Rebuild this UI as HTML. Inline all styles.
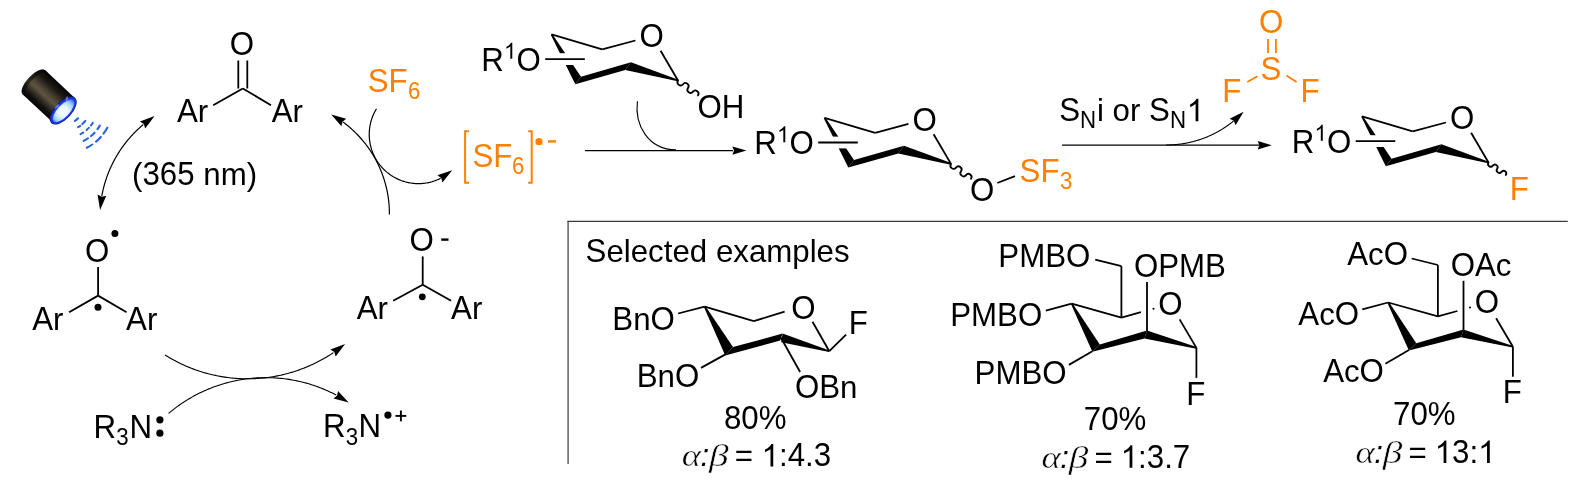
<!DOCTYPE html>
<html><head><meta charset="utf-8"><style>
html,body{margin:0;padding:0;background:#fff;}
body{width:1576px;height:484px;overflow:hidden;font-family:"Liberation Sans", sans-serif;}
svg{display:block;will-change:transform;}
</style></head><body>
<svg width="1576" height="484" viewBox="0 0 1576 484">
<rect width="1576" height="484" fill="#fff"/>
<defs>
<linearGradient id="bodyg" x1="0" y1="-16.5" x2="0" y2="16.5" gradientUnits="userSpaceOnUse">
<stop offset="0" stop-color="#040404"/><stop offset="0.22" stop-color="#1b1915"/><stop offset="0.45" stop-color="#4d4535"/>
<stop offset="0.57" stop-color="#5d5441"/><stop offset="0.7" stop-color="#3b3529"/><stop offset="0.86" stop-color="#121110"/><stop offset="1" stop-color="#040404"/>
</linearGradient>
<radialGradient id="lensg" cx="1.2" cy="1.5" r="14" gradientUnits="userSpaceOnUse">
<stop offset="0" stop-color="#ffffff"/><stop offset="0.4" stop-color="#e6f6ff"/><stop offset="0.75" stop-color="#9ed2ff"/><stop offset="1" stop-color="#4f86f5"/>
</radialGradient>
</defs>
<g transform="translate(63.3,109.7) rotate(43)">
<path d="M0,-16.5 L-40,-16.5 A7,16.5 0 0 0 -40,16.5 L0,16.5 Z" fill="url(#bodyg)"/>
<path d="M-36,-16.5 L-40,-16.5 A7,16.5 0 0 0 -40,16.5 L-36,16.5 A7,16.5 0 0 1 -36,-16.5 Z" fill="#0a0a0a" opacity="0.55"/>
<ellipse cx="0.5" cy="0.6" rx="8.6" ry="17.4" fill="#0b1590"/>
<ellipse cx="0.6" cy="0.6" rx="7.9" ry="16.7" fill="#1d36dc"/>
<ellipse cx="0.8" cy="0.6" rx="6.5" ry="14.8" fill="#2a4de8"/>
<ellipse cx="1.0" cy="0.7" rx="5.9" ry="14.0" fill="url(#lensg)"/>
<ellipse cx="-6.9" cy="2.0" rx="1.1" ry="2.8" fill="#9fd0ff" opacity="0.5"/>
<ellipse cx="-5.0" cy="-10.5" rx="1.0" ry="2.4" fill="#9fd0ff" opacity="0.5" transform="rotate(-25 -5 -10.5)"/>
</g>
<path d="M74.89,120.87 A18.7,18.7 0 0 0 78.10,118.35" fill="none" stroke="#2a62dc" stroke-width="2.1" stroke-linecap="round"/>
<path d="M78.14,127.20 A25.8,25.8 0 0 0 80.20,125.85" fill="none" stroke="#2a62dc" stroke-width="2.1" stroke-linecap="round"/>
<path d="M82.37,124.08 A25.8,25.8 0 0 0 85.30,120.92" fill="none" stroke="#2a62dc" stroke-width="2.1" stroke-linecap="round"/>
<path d="M80.53,134.12 A33,33 0 0 0 83.23,132.51" fill="none" stroke="#2a62dc" stroke-width="2.1" stroke-linecap="round"/>
<path d="M86.59,129.96 A33,33 0 0 0 88.79,127.87" fill="none" stroke="#2a62dc" stroke-width="2.1" stroke-linecap="round"/>
<path d="M90.99,125.33 A33,33 0 0 0 92.69,122.96" fill="none" stroke="#2a62dc" stroke-width="2.1" stroke-linecap="round"/>
<path d="M83.71,140.92 A40.5,40.5 0 0 0 87.94,138.38" fill="none" stroke="#2a62dc" stroke-width="2.1" stroke-linecap="round"/>
<path d="M91.04,136.02 A40.5,40.5 0 0 0 94.52,132.73" fill="none" stroke="#2a62dc" stroke-width="2.1" stroke-linecap="round"/>
<path d="M97.48,129.20 A40.5,40.5 0 0 0 99.89,125.56" fill="none" stroke="#2a62dc" stroke-width="2.1" stroke-linecap="round"/>
<path d="M86.79,147.77 A48,48 0 0 0 92.26,144.51" fill="none" stroke="#2a62dc" stroke-width="2.1" stroke-linecap="round"/>
<path d="M96.04,141.61 A48,48 0 0 0 100.84,136.93" fill="none" stroke="#2a62dc" stroke-width="2.1" stroke-linecap="round"/>
<path d="M103.48,133.69 A48,48 0 0 0 107.30,127.68" fill="none" stroke="#2a62dc" stroke-width="2.1" stroke-linecap="round"/>
<text transform="translate(229.72,54.90) scale(1,1.04)" x="0" y="0" font-size="31.25" fill="#000" font-family='"Liberation Sans", sans-serif' >O</text>
<line x1="238.30" y1="60.50" x2="238.30" y2="88.50" stroke="#000" stroke-width="1.8" stroke-linecap="butt"/>
<line x1="247.30" y1="60.50" x2="247.30" y2="88.50" stroke="#000" stroke-width="1.8" stroke-linecap="butt"/>
<line x1="242.80" y1="88.50" x2="213.20" y2="105.20" stroke="#000" stroke-width="1.8" stroke-linecap="butt"/>
<line x1="242.80" y1="88.50" x2="271.00" y2="105.20" stroke="#000" stroke-width="1.8" stroke-linecap="butt"/>
<text transform="translate(176.94,122.30) scale(1,1.04)" x="0" y="0" font-size="31.25" fill="#000" font-family='"Liberation Sans", sans-serif' >A</text>
<text transform="translate(197.78,122.30) scale(1,0.982)" x="0" y="0" font-size="31.25" fill="#000" font-family='"Liberation Sans", sans-serif' >r</text>
<text transform="translate(271.74,122.30) scale(1,1.04)" x="0" y="0" font-size="31.25" fill="#000" font-family='"Liberation Sans", sans-serif' >A</text>
<text transform="translate(292.58,122.30) scale(1,0.982)" x="0" y="0" font-size="31.25" fill="#000" font-family='"Liberation Sans", sans-serif' >r</text>
<text transform="translate(132.06,185.40) scale(1,1.0)" x="0" y="0" font-size="31.25" fill="#000" font-family='"Liberation Sans", sans-serif' >(</text>
<text transform="translate(142.47,185.40) scale(1,1.04)" x="0" y="0" font-size="31.25" fill="#000" font-family='"Liberation Sans", sans-serif' >365</text>
<text transform="translate(203.29,185.40) scale(1,0.982)" x="0" y="0" font-size="31.25" fill="#000" font-family='"Liberation Sans", sans-serif' >nm</text>
<text transform="translate(246.70,185.40) scale(1,1.0)" x="0" y="0" font-size="31.25" fill="#000" font-family='"Liberation Sans", sans-serif' >)</text>
<polygon points="154.60,116.10 145.19,128.58 143.85,124.10 139.94,121.52" fill="#000"/>
<polygon points="100.10,210.00 97.53,194.58 101.71,196.70 106.27,195.64" fill="#000"/>
<path d="M101.79,196.04 L101.96,195.12 L102.14,194.20 L102.32,193.28 L102.51,192.36 L102.71,191.44 L102.92,190.53 L103.13,189.61 L103.35,188.70 L103.57,187.79 L103.81,186.88 L104.05,185.98 L104.30,185.07 L104.55,184.17 L104.81,183.27 L105.08,182.37 L105.36,181.47 L105.64,180.58 L105.93,179.69 L106.22,178.80 L106.53,177.91 L106.84,177.02 L107.15,176.14 L107.48,175.26 L107.81,174.38 L108.14,173.51 L108.49,172.63 L108.84,171.76 L109.20,170.90 L109.56,170.03 L109.93,169.17 L110.31,168.31 L110.69,167.46 L111.08,166.60 L111.48,165.75 L111.88,164.91 L112.29,164.06 L112.71,163.22 L113.13,162.39 L113.56,161.55 L114.00,160.72 L114.44,159.89 L114.89,159.07 L115.34,158.25 L115.81,157.43 L116.27,156.62 L116.75,155.81 L117.23,155.01 L117.71,154.20 L118.21,153.41 L118.71,152.61 L119.21,151.82 L119.72,151.03 L120.24,150.25 L120.76,149.47 L121.29,148.70 L121.83,147.93 L122.37,147.16 L122.91,146.40 L123.47,145.64 L124.02,144.89 L124.59,144.14 L125.16,143.39 L125.73,142.65 L126.32,141.92 L126.90,141.19 L127.50,140.46 L128.09,139.74 L128.70,139.02 L129.31,138.31 L129.92,137.60 L130.54,136.90 L131.17,136.20 L131.80,135.50 L132.44,134.81 L133.08,134.13 L133.73,133.45 L134.38,132.78 L135.04,132.11 L135.70,131.45 L136.37,130.79 L137.04,130.13 L137.72,129.48 L138.40,128.84 L139.09,128.20 L139.78,127.57 L140.48,126.94 L141.18,126.32 L141.89,125.71 L142.60,125.10 L143.32,124.49" fill="none" stroke="#000" stroke-width="1.2"/>
<text transform="translate(84.92,262.20) scale(1,1.04)" x="0" y="0" font-size="31.25" fill="#000" font-family='"Liberation Sans", sans-serif' >O</text>
<circle cx="114.90" cy="233.40" r="3.5" fill="#000"/>
<line x1="98.10" y1="267.00" x2="98.10" y2="295.60" stroke="#000" stroke-width="1.8" stroke-linecap="butt"/>
<line x1="98.10" y1="295.60" x2="69.10" y2="312.20" stroke="#000" stroke-width="1.8" stroke-linecap="butt"/>
<line x1="98.10" y1="295.60" x2="126.60" y2="312.20" stroke="#000" stroke-width="1.8" stroke-linecap="butt"/>
<circle cx="98.00" cy="307.30" r="3.5" fill="#000"/>
<text transform="translate(32.24,330.10) scale(1,1.04)" x="0" y="0" font-size="31.25" fill="#000" font-family='"Liberation Sans", sans-serif' >A</text>
<text transform="translate(53.08,330.10) scale(1,0.982)" x="0" y="0" font-size="31.25" fill="#000" font-family='"Liberation Sans", sans-serif' >r</text>
<text transform="translate(126.04,330.20) scale(1,1.04)" x="0" y="0" font-size="31.25" fill="#000" font-family='"Liberation Sans", sans-serif' >A</text>
<text transform="translate(146.88,330.20) scale(1,0.982)" x="0" y="0" font-size="31.25" fill="#000" font-family='"Liberation Sans", sans-serif' >r</text>
<text transform="translate(93.44,438.40) scale(1,1.04)" x="0" y="0" font-size="31.25" fill="#000" font-family='"Liberation Sans", sans-serif' >R</text>
<text transform="translate(116.25,445.00) scale(1,1.04)" x="0" y="0" font-size="22.3" fill="#000" font-family='"Liberation Sans", sans-serif' >3</text>
<text transform="translate(129.44,438.40) scale(1,1.04)" x="0" y="0" font-size="31.25" fill="#000" font-family='"Liberation Sans", sans-serif' >N</text>
<circle cx="159.90" cy="419.80" r="3.6" fill="#000"/>
<circle cx="159.90" cy="433.20" r="3.6" fill="#000"/>
<text transform="translate(322.94,437.20) scale(1,1.04)" x="0" y="0" font-size="31.25" fill="#000" font-family='"Liberation Sans", sans-serif' >R</text>
<text transform="translate(345.75,444.50) scale(1,1.04)" x="0" y="0" font-size="22.3" fill="#000" font-family='"Liberation Sans", sans-serif' >3</text>
<text transform="translate(358.54,437.20) scale(1,1.04)" x="0" y="0" font-size="31.25" fill="#000" font-family='"Liberation Sans", sans-serif' >N</text>
<circle cx="387.90" cy="415.10" r="3.6" fill="#000"/>
<line x1="395.50" y1="415.90" x2="406.30" y2="415.90" stroke="#000" stroke-width="1.9" stroke-linecap="butt"/>
<line x1="400.90" y1="410.50" x2="400.90" y2="421.30" stroke="#000" stroke-width="1.9" stroke-linecap="butt"/>
<polygon points="345.10,344.00 335.67,356.47 334.33,351.98 330.43,349.40" fill="#000"/>
<path d="M164.90,354.90 L166.26,355.75 L167.63,356.59 L169.01,357.41 L170.40,358.22 L171.80,359.01 L173.20,359.79 L174.62,360.56 L176.04,361.31 L177.47,362.04 L178.90,362.76 L180.35,363.47 L181.80,364.16 L183.26,364.84 L184.72,365.50 L186.19,366.14 L187.67,366.77 L189.15,367.38 L190.65,367.98 L192.14,368.57 L193.65,369.13 L195.16,369.68 L196.67,370.22 L198.19,370.74 L199.72,371.24 L201.25,371.73 L202.78,372.21 L204.32,372.66 L205.87,373.10 L207.42,373.53 L208.97,373.93 L210.53,374.33 L212.09,374.70 L213.66,375.06 L215.23,375.41 L216.80,375.73 L218.38,376.04 L219.96,376.34 L221.54,376.61 L223.12,376.88 L224.71,377.12 L226.30,377.35 L227.90,377.56 L229.49,377.75 L231.09,377.93 L232.69,378.09 L234.29,378.24 L235.89,378.37 L237.49,378.48 L239.09,378.58 L240.70,378.65 L242.30,378.72 L243.91,378.76 L245.52,378.79 L247.12,378.80 L248.73,378.79 L250.34,378.77 L251.94,378.73 L253.55,378.68 L255.15,378.61 L256.76,378.52 L258.36,378.41 L259.96,378.29 L261.56,378.15 L263.16,378.00 L264.76,377.83 L266.36,377.64 L267.95,377.43 L269.54,377.21 L271.13,376.97 L272.72,376.72 L274.30,376.45 L275.88,376.16 L277.46,375.85 L279.03,375.53 L280.60,375.20 L282.17,374.84 L283.74,374.47 L285.30,374.09 L286.85,373.69 L288.40,373.27 L289.95,372.83 L291.49,372.38 L293.03,371.92 L294.56,371.43 L296.09,370.94 L297.61,370.42 L299.13,369.89 L300.64,369.35 L302.14,368.79 L303.64,368.21 L305.14,367.62 L306.63,367.01 L308.11,366.38 L309.58,365.75 L311.05,365.09 L312.51,364.42 L313.96,363.74 L315.41,363.04 L316.85,362.32 L318.28,361.59 L319.70,360.85 L321.12,360.09 L322.53,359.32 L323.93,358.53 L325.32,357.72 L326.70,356.91 L328.08,356.08 L329.44,355.23 L330.80,354.37 L332.15,353.49 L333.49,352.61" fill="none" stroke="#000" stroke-width="1.1"/>
<polygon points="348.70,402.40 333.55,398.56 337.16,395.58 338.02,390.98" fill="#000"/>
<path d="M168.60,413.40 L169.83,412.36 L171.08,411.34 L172.34,410.33 L173.60,409.33 L174.88,408.35 L176.17,407.38 L177.47,406.43 L178.78,405.48 L180.10,404.56 L181.43,403.64 L182.77,402.74 L184.11,401.86 L185.47,400.99 L186.84,400.13 L188.21,399.29 L189.60,398.47 L190.99,397.66 L192.40,396.86 L193.81,396.08 L195.22,395.31 L196.65,394.56 L198.09,393.83 L199.53,393.11 L200.98,392.40 L202.44,391.72 L203.90,391.04 L205.38,390.39 L206.85,389.74 L208.34,389.12 L209.83,388.51 L211.33,387.92 L212.84,387.34 L214.35,386.78 L215.87,386.23 L217.39,385.70 L218.92,385.19 L220.45,384.69 L221.99,384.21 L223.54,383.75 L225.09,383.30 L226.64,382.87 L228.20,382.46 L229.76,382.06 L231.33,381.68 L232.90,381.32 L234.47,380.98 L236.05,380.65 L237.63,380.33 L239.22,380.04 L240.81,379.76 L242.40,379.50 L243.99,379.25 L245.59,379.03 L247.19,378.82 L248.79,378.62 L250.39,378.45 L252.00,378.29 L253.60,378.15 L255.21,378.02 L256.82,377.92 L258.43,377.83 L260.04,377.76 L261.65,377.70 L263.26,377.66 L264.88,377.64 L266.49,377.64 L268.10,377.65 L269.71,377.68 L271.32,377.73 L272.93,377.80 L274.54,377.88 L276.15,377.98 L277.76,378.10 L279.37,378.23 L280.97,378.39 L282.58,378.55 L284.18,378.74 L285.78,378.94 L287.38,379.16 L288.97,379.40 L290.56,379.66 L292.15,379.93 L293.74,380.22 L295.32,380.52 L296.90,380.85 L298.48,381.19 L300.05,381.54 L301.62,381.92 L303.18,382.31 L304.74,382.71 L306.30,383.14 L307.85,383.58 L309.40,384.03 L310.94,384.51 L312.47,385.00 L314.01,385.50 L315.53,386.02 L317.05,386.56 L318.56,387.12 L320.07,387.69 L321.57,388.28 L323.07,388.88 L324.56,389.50 L326.04,390.14 L327.51,390.79 L328.98,391.45 L330.44,392.14 L331.90,392.83 L333.34,393.55 L334.78,394.28 L336.21,395.02" fill="none" stroke="#000" stroke-width="1.1"/>
<text transform="translate(409.42,250.75) scale(1,1.04)" x="0" y="0" font-size="31.25" fill="#000" font-family='"Liberation Sans", sans-serif' >O</text>
<line x1="441.20" y1="239.60" x2="448.50" y2="239.60" stroke="#000" stroke-width="2.4" stroke-linecap="butt"/>
<line x1="422.70" y1="256.40" x2="422.70" y2="284.80" stroke="#000" stroke-width="1.8" stroke-linecap="butt"/>
<line x1="422.70" y1="284.80" x2="393.20" y2="300.70" stroke="#000" stroke-width="1.8" stroke-linecap="butt"/>
<line x1="422.70" y1="284.80" x2="451.10" y2="300.70" stroke="#000" stroke-width="1.8" stroke-linecap="butt"/>
<circle cx="422.30" cy="296.80" r="3.4" fill="#000"/>
<text transform="translate(356.74,319.20) scale(1,1.04)" x="0" y="0" font-size="31.25" fill="#000" font-family='"Liberation Sans", sans-serif' >A</text>
<text transform="translate(377.58,319.20) scale(1,0.982)" x="0" y="0" font-size="31.25" fill="#000" font-family='"Liberation Sans", sans-serif' >r</text>
<text transform="translate(451.04,319.20) scale(1,1.04)" x="0" y="0" font-size="31.25" fill="#000" font-family='"Liberation Sans", sans-serif' >A</text>
<text transform="translate(471.88,319.20) scale(1,0.982)" x="0" y="0" font-size="31.25" fill="#000" font-family='"Liberation Sans", sans-serif' >r</text>
<polygon points="331.20,114.40 346.19,118.84 342.46,121.67 341.41,126.24" fill="#000"/>
<path d="M389.40,214.60 L389.40,213.59 L389.40,212.57 L389.38,211.56 L389.36,210.55 L389.32,209.54 L389.28,208.52 L389.23,207.51 L389.17,206.50 L389.10,205.49 L389.02,204.48 L388.93,203.47 L388.84,202.46 L388.73,201.46 L388.62,200.45 L388.49,199.44 L388.36,198.44 L388.22,197.44 L388.07,196.43 L387.91,195.43 L387.74,194.44 L387.57,193.44 L387.38,192.44 L387.19,191.45 L386.99,190.46 L386.77,189.47 L386.55,188.48 L386.32,187.49 L386.08,186.51 L385.84,185.52 L385.58,184.54 L385.32,183.57 L385.04,182.59 L384.76,181.62 L384.47,180.65 L384.17,179.68 L383.87,178.71 L383.55,177.75 L383.23,176.79 L382.89,175.83 L382.55,174.88 L382.20,173.93 L381.84,172.98 L381.47,172.04 L381.10,171.10 L380.72,170.16 L380.32,169.23 L379.92,168.30 L379.52,167.37 L379.10,166.45 L378.67,165.53 L378.24,164.61 L377.80,163.70 L377.35,162.79 L376.89,161.89 L376.43,160.99 L375.95,160.09 L375.47,159.20 L374.98,158.31 L374.49,157.43 L373.98,156.55 L373.47,155.68 L372.95,154.81 L372.42,153.95 L371.88,153.09 L371.34,152.23 L370.79,151.38 L370.23,150.54 L369.67,149.70 L369.09,148.86 L368.51,148.03 L367.92,147.21 L367.33,146.39 L366.73,145.57 L366.12,144.76 L365.50,143.96 L364.87,143.16 L364.24,142.37 L363.60,141.58 L362.96,140.80 L362.31,140.03 L361.65,139.26 L360.98,138.50 L360.31,137.74 L359.63,136.99 L358.94,136.24 L358.25,135.50 L357.55,134.77 L356.85,134.04 L356.14,133.32 L355.42,132.61 L354.69,131.90 L353.96,131.20 L353.22,130.50 L352.48,129.82 L351.73,129.14 L350.98,128.46 L350.21,127.79 L349.45,127.13 L348.67,126.48 L347.90,125.83 L347.11,125.19 L346.32,124.55 L345.52,123.93 L344.72,123.31 L343.92,122.70 L343.10,122.09" fill="none" stroke="#000" stroke-width="1.2"/>
<polygon points="452.20,170.20 442.46,182.43 441.24,177.91 437.40,175.23" fill="#000"/>
<path d="M376.50,108.70 L375.90,109.71 L375.31,110.74 L374.76,111.78 L374.23,112.83 L373.72,113.90 L373.24,114.98 L372.79,116.07 L372.36,117.17 L371.96,118.28 L371.59,119.40 L371.24,120.52 L370.92,121.66 L370.63,122.80 L370.37,123.95 L370.13,125.11 L369.92,126.27 L369.74,127.43 L369.58,128.60 L369.46,129.78 L369.36,130.95 L369.29,132.13 L369.25,133.31 L369.24,134.49 L369.25,135.67 L369.30,136.85 L369.37,138.02 L369.47,139.20 L369.60,140.37 L369.75,141.54 L369.94,142.71 L370.15,143.87 L370.39,145.02 L370.66,146.17 L370.95,147.31 L371.28,148.45 L371.63,149.57 L372.00,150.69 L372.41,151.80 L372.84,152.90 L373.29,153.99 L373.78,155.06 L374.28,156.13 L374.82,157.18 L375.37,158.22 L375.96,159.25 L376.56,160.26 L377.20,161.25 L377.85,162.23 L378.53,163.20 L379.23,164.15 L379.95,165.08 L380.70,165.99 L381.47,166.89 L382.26,167.77 L383.07,168.62 L383.90,169.46 L384.75,170.28 L385.62,171.08 L386.51,171.85 L387.41,172.61 L388.34,173.34 L389.28,174.05 L390.24,174.74 L391.21,175.40 L392.20,176.04 L393.21,176.66 L394.23,177.25 L395.26,177.82 L396.31,178.37 L397.37,178.88 L398.44,179.38 L399.52,179.84 L400.62,180.28 L401.72,180.70 L402.84,181.08 L403.96,181.44 L405.09,181.78 L406.23,182.08 L407.38,182.36 L408.53,182.61 L409.69,182.84 L410.85,183.03 L412.02,183.20 L413.19,183.34 L414.37,183.45 L415.54,183.54 L416.72,183.59 L417.90,183.62 L419.08,183.62 L420.26,183.59 L421.44,183.53 L422.61,183.44 L423.79,183.33 L424.96,183.19 L426.13,183.02 L427.29,182.82 L428.45,182.59 L429.60,182.34 L430.74,182.05 L431.88,181.75 L433.01,181.41 L434.14,181.05 L435.25,180.66 L436.35,180.24 L437.45,179.80 L438.53,179.33 L439.60,178.83 L440.66,178.31" fill="none" stroke="#000" stroke-width="1.2"/>
<text transform="translate(367.68,91.90) scale(1,1.04)" x="0" y="0" font-size="31.25" fill="#ff8000" font-family='"Liberation Sans", sans-serif' >SF</text>
<text transform="translate(407.97,98.90) scale(1,1.04)" x="0" y="0" font-size="22.3" fill="#ff8000" font-family='"Liberation Sans", sans-serif' >6</text>
<path d="M469,131.2 H465.1 V182.8 H469" fill="none" stroke="#ff8000" stroke-width="2"/>
<path d="M528.2,131.2 H531.7 V182.8 H528.2" fill="none" stroke="#ff8000" stroke-width="2"/>
<text transform="translate(472.48,166.60) scale(1,1.04)" x="0" y="0" font-size="31.25" fill="#ff8000" font-family='"Liberation Sans", sans-serif' >SF</text>
<text transform="translate(511.97,173.50) scale(1,1.04)" x="0" y="0" font-size="22.3" fill="#ff8000" font-family='"Liberation Sans", sans-serif' >6</text>
<circle cx="539.00" cy="141.70" r="3.6" fill="#ff8000"/>
<line x1="548.00" y1="141.40" x2="556.10" y2="141.40" stroke="#ff8000" stroke-width="2.4" stroke-linecap="butt"/>
<text transform="translate(481.14,70.60) scale(1,1.04)" x="0" y="0" font-size="31.25" fill="#000" font-family='"Liberation Sans", sans-serif' >R</text>
<path transform="translate(503.97,58.80) scale(0.01089,-0.01089)" d="M763,0 L583,0 L583,1147 Q518,1085 412.5,1023 Q307,961 223,930 L223,1104 Q374,1175 487,1276 Q600,1377 647,1472 L763,1472 Z" fill="#000"/>
<text transform="translate(516.62,70.60) scale(1,1.04)" x="0" y="0" font-size="31.25" fill="#000" font-family='"Liberation Sans", sans-serif' >O</text>
<line x1="551.50" y1="34.40" x2="602.20" y2="49.40" stroke="#000" stroke-width="1.8" stroke-linecap="butt"/>
<line x1="602.20" y1="49.40" x2="635.40" y2="40.50" stroke="#000" stroke-width="1.8" stroke-linecap="butt"/>
<text transform="translate(639.62,47.40) scale(1,1.04)" x="0" y="0" font-size="31.25" fill="#000" font-family='"Liberation Sans", sans-serif' >O</text>
<line x1="660.60" y1="50.80" x2="678.00" y2="80.50" stroke="#000" stroke-width="1.8" stroke-linecap="butt"/>
<polygon points="550.76,34.83 575.30,84.20 581.00,76.70 552.24,33.97" fill="#000"/>
<polygon points="575.30,84.20 581.00,76.70 631.00,62.30 625.30,70.00" fill="#000"/>
<polygon points="678.24,79.68 631.00,62.30 625.30,70.00 677.76,81.32" fill="#000"/>
<rect x="548" y="53.2" width="40" height="11.8" fill="#fff"/>
<line x1="545.20" y1="59.10" x2="584.80" y2="59.10" stroke="#000" stroke-width="1.9" stroke-linecap="butt"/>
<path d="M678.00,80.50 A3.12,3.12 0 0 0 683.00,84.22 A3.12,3.12 0 0 1 688.00,87.95 A3.12,3.12 0 0 0 693.00,91.68 A3.12,3.12 0 0 1 698.00,95.40" fill="none" stroke="#000" stroke-width="1.8" stroke-linecap="round"/>
<text transform="translate(697.42,117.70) scale(1,1.04)" x="0" y="0" font-size="31.25" fill="#000" font-family='"Liberation Sans", sans-serif' >OH</text>
<line x1="584.90" y1="150.60" x2="733.00" y2="150.60" stroke="#000" stroke-width="1.3" stroke-linecap="butt"/>
<polygon points="746.40,150.60 732.40,154.80 734.00,150.60 732.40,146.40" fill="#000"/>
<path d="M637.4,101.2 C634.5,125 648,149.6 676,149.8" fill="none" stroke="#000" stroke-width="1.1"/>
<text transform="translate(754.14,154.00) scale(1,1.04)" x="0" y="0" font-size="31.25" fill="#000" font-family='"Liberation Sans", sans-serif' >R</text>
<path transform="translate(776.97,142.20) scale(0.01089,-0.01089)" d="M763,0 L583,0 L583,1147 Q518,1085 412.5,1023 Q307,961 223,930 L223,1104 Q374,1175 487,1276 Q600,1377 647,1472 L763,1472 Z" fill="#000"/>
<text transform="translate(789.62,154.00) scale(1,1.04)" x="0" y="0" font-size="31.25" fill="#000" font-family='"Liberation Sans", sans-serif' >O</text>
<line x1="824.50" y1="117.80" x2="875.20" y2="132.80" stroke="#000" stroke-width="1.8" stroke-linecap="butt"/>
<line x1="875.20" y1="132.80" x2="908.40" y2="123.90" stroke="#000" stroke-width="1.8" stroke-linecap="butt"/>
<text transform="translate(912.62,130.80) scale(1,1.04)" x="0" y="0" font-size="31.25" fill="#000" font-family='"Liberation Sans", sans-serif' >O</text>
<line x1="933.60" y1="134.20" x2="951.00" y2="163.90" stroke="#000" stroke-width="1.8" stroke-linecap="butt"/>
<polygon points="823.76,118.23 848.30,167.60 854.00,160.10 825.24,117.37" fill="#000"/>
<polygon points="848.30,167.60 854.00,160.10 904.00,145.70 898.30,153.40" fill="#000"/>
<polygon points="951.24,163.08 904.00,145.70 898.30,153.40 950.76,164.72" fill="#000"/>
<rect x="821.0" y="136.60000000000002" width="40" height="11.8" fill="#fff"/>
<line x1="818.20" y1="142.50" x2="857.80" y2="142.50" stroke="#000" stroke-width="1.9" stroke-linecap="butt"/>
<path d="M951.00,163.90 A3.12,3.12 0 0 0 956.00,167.62 A3.12,3.12 0 0 1 961.00,171.35 A3.12,3.12 0 0 0 966.00,175.08 A3.12,3.12 0 0 1 971.00,178.80" fill="none" stroke="#000" stroke-width="1.8" stroke-linecap="round"/>
<text transform="translate(970.12,200.65) scale(1,1.04)" x="0" y="0" font-size="31.25" fill="#000" font-family='"Liberation Sans", sans-serif' >O</text>
<line x1="997.30" y1="183.00" x2="1015.00" y2="176.10" stroke="#000" stroke-width="1.8" stroke-linecap="butt"/>
<text transform="translate(1019.58,181.60) scale(1,1.04)" x="0" y="0" font-size="31.25" fill="#ff8000" font-family='"Liberation Sans", sans-serif' >SF</text>
<text transform="translate(1059.95,188.70) scale(1,1.04)" x="0" y="0" font-size="22.3" fill="#ff8000" font-family='"Liberation Sans", sans-serif' >3</text>
<line x1="1062.10" y1="145.20" x2="1259.00" y2="145.20" stroke="#000" stroke-width="1.3" stroke-linecap="butt"/>
<polygon points="1271.70,145.20 1257.70,149.40 1259.30,145.20 1257.70,141.00" fill="#000"/>
<polygon points="1243.60,111.70 1235.61,125.13 1233.78,120.82 1229.62,118.69" fill="#000"/>
<path d="M1166.20,145.00 L1166.92,145.00 L1167.64,144.99 L1168.37,144.98 L1169.09,144.96 L1169.81,144.94 L1170.53,144.91 L1171.25,144.88 L1171.97,144.85 L1172.69,144.81 L1173.41,144.76 L1174.13,144.71 L1174.85,144.65 L1175.57,144.59 L1176.29,144.53 L1177.01,144.46 L1177.73,144.38 L1178.45,144.30 L1179.16,144.22 L1179.88,144.13 L1180.59,144.03 L1181.31,143.93 L1182.02,143.83 L1182.74,143.72 L1183.45,143.60 L1184.16,143.48 L1184.87,143.36 L1185.58,143.23 L1186.29,143.10 L1187.00,142.96 L1187.71,142.82 L1188.42,142.67 L1189.12,142.52 L1189.83,142.36 L1190.53,142.20 L1191.23,142.03 L1191.93,141.86 L1192.63,141.68 L1193.33,141.50 L1194.03,141.31 L1194.73,141.12 L1195.42,140.93 L1196.11,140.73 L1196.81,140.52 L1197.50,140.31 L1198.19,140.10 L1198.88,139.88 L1199.56,139.66 L1200.25,139.43 L1200.93,139.20 L1201.61,138.96 L1202.29,138.72 L1202.97,138.47 L1203.65,138.22 L1204.32,137.96 L1205.00,137.70 L1205.67,137.44 L1206.34,137.17 L1207.00,136.89 L1207.67,136.62 L1208.33,136.33 L1209.00,136.05 L1209.66,135.75 L1210.32,135.46 L1210.97,135.16 L1211.63,134.85 L1212.28,134.54 L1212.93,134.23 L1213.58,133.91 L1214.22,133.59 L1214.86,133.26 L1215.51,132.93 L1216.14,132.59 L1216.78,132.25 L1217.42,131.90 L1218.05,131.56 L1218.68,131.20 L1219.30,130.84 L1219.93,130.48 L1220.55,130.12 L1221.17,129.75 L1221.79,129.37 L1222.40,128.99 L1223.01,128.61 L1223.62,128.22 L1224.23,127.83 L1224.84,127.44 L1225.44,127.04 L1226.04,126.64 L1226.63,126.23 L1227.22,125.82 L1227.81,125.40 L1228.40,124.98 L1228.99,124.56 L1229.57,124.13 L1230.15,123.70 L1230.72,123.26 L1231.30,122.83 L1231.87,122.38 L1232.43,121.94 L1233.00,121.49 L1233.56,121.03" fill="none" stroke="#000" stroke-width="1.1"/>
<text transform="translate(1059.28,121.30) scale(1,1.04)" x="0" y="0" font-size="31.25" fill="#000" font-family='"Liberation Sans", sans-serif' >S</text>
<text transform="translate(1080.07,127.80) scale(1,1.04)" x="0" y="0" font-size="22.3" fill="#000" font-family='"Liberation Sans", sans-serif' >N</text>
<text transform="translate(1096.91,121.30) scale(1,0.982)" x="0" y="0" font-size="31.25" fill="#000" font-family='"Liberation Sans", sans-serif' >i</text>
<text transform="translate(1112.53,121.30) scale(1,0.982)" x="0" y="0" font-size="31.25" fill="#000" font-family='"Liberation Sans", sans-serif' >or</text>
<text transform="translate(1149.00,121.30) scale(1,1.04)" x="0" y="0" font-size="31.25" fill="#000" font-family='"Liberation Sans", sans-serif' >S</text>
<text transform="translate(1170.07,127.80) scale(1,1.04)" x="0" y="0" font-size="22.3" fill="#000" font-family='"Liberation Sans", sans-serif' >N</text>
<path transform="translate(1186.70,121.30) scale(0.01526,-0.01526)" d="M763,0 L583,0 L583,1147 Q518,1085 412.5,1023 Q307,961 223,930 L223,1104 Q374,1175 487,1276 Q600,1377 647,1472 L763,1472 Z" fill="#000"/>
<text transform="translate(1259.02,33.45) scale(1,1.04)" x="0" y="0" font-size="31.25" fill="#ff8000" font-family='"Liberation Sans", sans-serif' >O</text>
<line x1="1268.00" y1="38.90" x2="1268.00" y2="53.00" stroke="#ff8000" stroke-width="1.8" stroke-linecap="butt"/>
<line x1="1275.90" y1="38.90" x2="1275.90" y2="53.00" stroke="#ff8000" stroke-width="1.8" stroke-linecap="butt"/>
<text transform="translate(1260.38,79.95) scale(1,1.04)" x="0" y="0" font-size="31.25" fill="#ff8000" font-family='"Liberation Sans", sans-serif' >S</text>
<line x1="1247.30" y1="82.00" x2="1257.40" y2="76.20" stroke="#ff8000" stroke-width="1.8" stroke-linecap="butt"/>
<line x1="1286.40" y1="75.60" x2="1296.60" y2="82.00" stroke="#ff8000" stroke-width="1.8" stroke-linecap="butt"/>
<text transform="translate(1222.24,101.80) scale(1,1.04)" x="0" y="0" font-size="31.25" fill="#ff8000" font-family='"Liberation Sans", sans-serif' >F</text>
<text transform="translate(1300.44,101.80) scale(1,1.04)" x="0" y="0" font-size="31.25" fill="#ff8000" font-family='"Liberation Sans", sans-serif' >F</text>
<text transform="translate(1291.64,152.60) scale(1,1.04)" x="0" y="0" font-size="31.25" fill="#000" font-family='"Liberation Sans", sans-serif' >R</text>
<path transform="translate(1314.47,140.80) scale(0.01089,-0.01089)" d="M763,0 L583,0 L583,1147 Q518,1085 412.5,1023 Q307,961 223,930 L223,1104 Q374,1175 487,1276 Q600,1377 647,1472 L763,1472 Z" fill="#000"/>
<text transform="translate(1327.12,152.60) scale(1,1.04)" x="0" y="0" font-size="31.25" fill="#000" font-family='"Liberation Sans", sans-serif' >O</text>
<line x1="1362.00" y1="116.40" x2="1412.70" y2="131.40" stroke="#000" stroke-width="1.8" stroke-linecap="butt"/>
<line x1="1412.70" y1="131.40" x2="1445.90" y2="122.50" stroke="#000" stroke-width="1.8" stroke-linecap="butt"/>
<text transform="translate(1450.12,129.40) scale(1,1.04)" x="0" y="0" font-size="31.25" fill="#000" font-family='"Liberation Sans", sans-serif' >O</text>
<line x1="1471.10" y1="132.80" x2="1488.50" y2="162.50" stroke="#000" stroke-width="1.8" stroke-linecap="butt"/>
<polygon points="1361.26,116.83 1385.80,166.20 1391.50,158.70 1362.74,115.97" fill="#000"/>
<polygon points="1385.80,166.20 1391.50,158.70 1441.50,144.30 1435.80,152.00" fill="#000"/>
<polygon points="1488.74,161.68 1441.50,144.30 1435.80,152.00 1488.26,163.32" fill="#000"/>
<rect x="1358.5" y="135.2" width="40" height="11.8" fill="#fff"/>
<line x1="1355.70" y1="141.10" x2="1395.30" y2="141.10" stroke="#000" stroke-width="1.9" stroke-linecap="butt"/>
<path d="M1488.50,162.50 A2.67,2.67 0 0 0 1492.83,165.62 A2.67,2.67 0 0 1 1497.15,168.75 A2.67,2.67 0 0 0 1501.47,171.88 A2.67,2.67 0 0 1 1505.80,175.00" fill="none" stroke="#000" stroke-width="1.8" stroke-linecap="round"/>
<text transform="translate(1509.84,199.80) scale(1,1.04)" x="0" y="0" font-size="31.25" fill="#ff8000" font-family='"Liberation Sans", sans-serif' >F</text>
<line x1="568.1" y1="221.0" x2="568.1" y2="463.9" stroke="#606060" stroke-width="1.5"/>
<line x1="567.4" y1="221.4" x2="1567.7" y2="221.4" stroke="#383838" stroke-width="1.2"/>
<text transform="translate(585.58,262.00) scale(1,1.04)" x="0" y="0" font-size="31.25" fill="#000" font-family='"Liberation Sans", sans-serif' >S</text>
<text transform="translate(606.42,262.00) scale(1,0.982)" x="0" y="0" font-size="31.25" fill="#000" font-family='"Liberation Sans", sans-serif' >elected</text>
<text transform="translate(715.88,262.00) scale(1,0.982)" x="0" y="0" font-size="31.25" fill="#000" font-family='"Liberation Sans", sans-serif' >examples</text>
<text transform="translate(612.34,329.60) scale(1,1.04)" x="0" y="0" font-size="31.25" fill="#000" font-family='"Liberation Sans", sans-serif' >B</text>
<text transform="translate(633.18,329.60) scale(1,0.982)" x="0" y="0" font-size="31.25" fill="#000" font-family='"Liberation Sans", sans-serif' >n</text>
<text transform="translate(650.56,329.60) scale(1,1.04)" x="0" y="0" font-size="31.25" fill="#000" font-family='"Liberation Sans", sans-serif' >O</text>
<line x1="678.10" y1="313.50" x2="704.70" y2="306.60" stroke="#000" stroke-width="1.8" stroke-linecap="butt"/>
<line x1="704.70" y1="306.60" x2="753.80" y2="321.10" stroke="#000" stroke-width="1.8" stroke-linecap="butt"/>
<line x1="753.80" y1="321.10" x2="784.60" y2="311.70" stroke="#000" stroke-width="1.8" stroke-linecap="butt"/>
<text transform="translate(791.32,318.80) scale(1,1.04)" x="0" y="0" font-size="31.25" fill="#000" font-family='"Liberation Sans", sans-serif' >O</text>
<line x1="812.50" y1="321.80" x2="829.30" y2="351.20" stroke="#000" stroke-width="1.8" stroke-linecap="butt"/>
<line x1="829.30" y1="351.20" x2="846.10" y2="334.60" stroke="#000" stroke-width="1.8" stroke-linecap="butt"/>
<text transform="translate(848.84,334.30) scale(1,1.04)" x="0" y="0" font-size="31.25" fill="#000" font-family='"Liberation Sans", sans-serif' >F</text>
<polygon points="703.95,307.01 725.20,355.50 733.00,347.10 705.45,306.19" fill="#000"/>
<polygon points="725.20,355.50 733.00,347.10 782.60,333.60 780.20,340.50" fill="#000"/>
<polygon points="829.53,350.38 782.60,333.60 781.20,342.30 829.07,352.02" fill="#000"/>
<line x1="725.40" y1="354.40" x2="701.00" y2="367.90" stroke="#000" stroke-width="1.8" stroke-linecap="butt"/>
<text transform="translate(636.74,387.20) scale(1,1.04)" x="0" y="0" font-size="31.25" fill="#000" font-family='"Liberation Sans", sans-serif' >B</text>
<text transform="translate(657.58,387.20) scale(1,0.982)" x="0" y="0" font-size="31.25" fill="#000" font-family='"Liberation Sans", sans-serif' >n</text>
<text transform="translate(674.96,387.20) scale(1,1.04)" x="0" y="0" font-size="31.25" fill="#000" font-family='"Liberation Sans", sans-serif' >O</text>
<line x1="780.80" y1="337.50" x2="800.10" y2="372.00" stroke="#000" stroke-width="1.8" stroke-linecap="butt"/>
<text transform="translate(794.92,397.60) scale(1,1.04)" x="0" y="0" font-size="31.25" fill="#000" font-family='"Liberation Sans", sans-serif' >OB</text>
<text transform="translate(840.07,397.60) scale(1,0.982)" x="0" y="0" font-size="31.25" fill="#000" font-family='"Liberation Sans", sans-serif' >n</text>
<text transform="translate(723.94,428.70) scale(1,1.04)" x="0" y="0" font-size="31.25" fill="#000" font-family='"Liberation Sans", sans-serif' >80%</text>
<line x1="1095.20" y1="259.70" x2="1121.40" y2="266.20" stroke="#000" stroke-width="1.8" stroke-linecap="butt"/>
<line x1="1121.40" y1="266.20" x2="1121.40" y2="317.60" stroke="#000" stroke-width="1.8" stroke-linecap="butt"/>
<line x1="1045.80" y1="310.60" x2="1071.70" y2="303.70" stroke="#000" stroke-width="1.8" stroke-linecap="butt"/>
<line x1="1071.70" y1="303.70" x2="1121.40" y2="317.60" stroke="#000" stroke-width="1.8" stroke-linecap="butt"/>
<line x1="1121.40" y1="317.60" x2="1140.90" y2="312.20" stroke="#000" stroke-width="1.8" stroke-linecap="butt"/>
<circle cx="1153.50" cy="308.70" r="1.05" fill="#000"/>
<line x1="1147.00" y1="282.00" x2="1147.00" y2="331.20" stroke="#000" stroke-width="1.8" stroke-linecap="butt"/>
<line x1="1179.60" y1="319.40" x2="1196.40" y2="347.90" stroke="#000" stroke-width="1.8" stroke-linecap="butt"/>
<line x1="1196.40" y1="347.60" x2="1196.40" y2="377.90" stroke="#000" stroke-width="1.8" stroke-linecap="butt"/>
<polygon points="1070.96,304.11 1092.40,351.80 1099.80,344.40 1072.44,303.29" fill="#000"/>
<polygon points="1092.40,351.80 1099.80,344.40 1147.00,330.60 1144.50,338.40" fill="#000"/>
<polygon points="1196.62,347.08 1147.00,330.60 1144.50,338.40 1196.18,348.72" fill="#000"/>
<line x1="1092.40" y1="351.20" x2="1068.90" y2="364.90" stroke="#000" stroke-width="1.8" stroke-linecap="butt"/>
<text transform="translate(998.34,266.90) scale(1,1.04)" x="0" y="0" font-size="31.25" fill="#000" font-family='"Liberation Sans", sans-serif' >PMBO</text>
<text transform="translate(950.24,325.70) scale(1,1.04)" x="0" y="0" font-size="31.25" fill="#000" font-family='"Liberation Sans", sans-serif' >PMBO</text>
<text transform="translate(974.54,384.30) scale(1,1.04)" x="0" y="0" font-size="31.25" fill="#000" font-family='"Liberation Sans", sans-serif' >PMBO</text>
<text transform="translate(1133.92,277.30) scale(1,1.04)" x="0" y="0" font-size="31.25" fill="#000" font-family='"Liberation Sans", sans-serif' >OPMB</text>
<text transform="translate(1158.22,314.85) scale(1,1.04)" x="0" y="0" font-size="31.25" fill="#000" font-family='"Liberation Sans", sans-serif' >O</text>
<text transform="translate(1186.24,404.50) scale(1,1.04)" x="0" y="0" font-size="31.25" fill="#000" font-family='"Liberation Sans", sans-serif' >F</text>
<text transform="translate(1083.80,430.00) scale(1,1.04)" x="0" y="0" font-size="31.25" fill="#000" font-family='"Liberation Sans", sans-serif' >70%</text>
<line x1="1411.70" y1="258.50" x2="1437.90" y2="265.00" stroke="#000" stroke-width="1.8" stroke-linecap="butt"/>
<line x1="1437.90" y1="265.00" x2="1437.90" y2="316.40" stroke="#000" stroke-width="1.8" stroke-linecap="butt"/>
<line x1="1362.30" y1="309.40" x2="1388.20" y2="302.50" stroke="#000" stroke-width="1.8" stroke-linecap="butt"/>
<line x1="1388.20" y1="302.50" x2="1437.90" y2="316.40" stroke="#000" stroke-width="1.8" stroke-linecap="butt"/>
<line x1="1437.90" y1="316.40" x2="1457.40" y2="311.00" stroke="#000" stroke-width="1.8" stroke-linecap="butt"/>
<circle cx="1470.00" cy="307.50" r="1.05" fill="#000"/>
<line x1="1463.50" y1="280.80" x2="1463.50" y2="330.00" stroke="#000" stroke-width="1.8" stroke-linecap="butt"/>
<line x1="1496.10" y1="318.20" x2="1512.90" y2="346.70" stroke="#000" stroke-width="1.8" stroke-linecap="butt"/>
<line x1="1512.90" y1="346.40" x2="1512.90" y2="376.70" stroke="#000" stroke-width="1.8" stroke-linecap="butt"/>
<polygon points="1387.46,302.91 1408.90,350.60 1416.30,343.20 1388.94,302.09" fill="#000"/>
<polygon points="1408.90,350.60 1416.30,343.20 1463.50,329.40 1461.00,337.20" fill="#000"/>
<polygon points="1513.12,345.88 1463.50,329.40 1461.00,337.20 1512.68,347.52" fill="#000"/>
<line x1="1408.90" y1="350.00" x2="1385.40" y2="363.70" stroke="#000" stroke-width="1.8" stroke-linecap="butt"/>
<text transform="translate(1347.24,265.10) scale(1,1.04)" x="0" y="0" font-size="31.25" fill="#000" font-family='"Liberation Sans", sans-serif' >A</text>
<text transform="translate(1368.08,265.10) scale(1,0.982)" x="0" y="0" font-size="31.25" fill="#000" font-family='"Liberation Sans", sans-serif' >c</text>
<text transform="translate(1383.71,265.10) scale(1,1.04)" x="0" y="0" font-size="31.25" fill="#000" font-family='"Liberation Sans", sans-serif' >O</text>
<text transform="translate(1298.34,324.60) scale(1,1.04)" x="0" y="0" font-size="31.25" fill="#000" font-family='"Liberation Sans", sans-serif' >A</text>
<text transform="translate(1319.18,324.60) scale(1,0.982)" x="0" y="0" font-size="31.25" fill="#000" font-family='"Liberation Sans", sans-serif' >c</text>
<text transform="translate(1334.81,324.60) scale(1,1.04)" x="0" y="0" font-size="31.25" fill="#000" font-family='"Liberation Sans", sans-serif' >O</text>
<text transform="translate(1323.14,382.30) scale(1,1.04)" x="0" y="0" font-size="31.25" fill="#000" font-family='"Liberation Sans", sans-serif' >A</text>
<text transform="translate(1343.98,382.30) scale(1,0.982)" x="0" y="0" font-size="31.25" fill="#000" font-family='"Liberation Sans", sans-serif' >c</text>
<text transform="translate(1359.61,382.30) scale(1,1.04)" x="0" y="0" font-size="31.25" fill="#000" font-family='"Liberation Sans", sans-serif' >O</text>
<text transform="translate(1450.72,275.80) scale(1,1.04)" x="0" y="0" font-size="31.25" fill="#000" font-family='"Liberation Sans", sans-serif' >OA</text>
<text transform="translate(1495.87,275.80) scale(1,0.982)" x="0" y="0" font-size="31.25" fill="#000" font-family='"Liberation Sans", sans-serif' >c</text>
<text transform="translate(1474.72,313.00) scale(1,1.04)" x="0" y="0" font-size="31.25" fill="#000" font-family='"Liberation Sans", sans-serif' >O</text>
<text transform="translate(1502.74,403.10) scale(1,1.04)" x="0" y="0" font-size="31.25" fill="#000" font-family='"Liberation Sans", sans-serif' >F</text>
<text transform="translate(1393.00,424.80) scale(1,1.04)" x="0" y="0" font-size="31.25" fill="#000" font-family='"Liberation Sans", sans-serif' >70%</text>
<g transform="translate(682.80,466.40) scale(1.17,1)"><text x="-0.9" y="0" font-family='"Liberation Serif", serif' font-style='italic' font-size='31.25' stroke="#fff" stroke-width="0.45">α</text></g>
<g transform="translate(702.00,466.40)"><text x="-1.5" y="0" font-family='"Liberation Sans", sans-serif' font-style="italic" font-size="31.25">:</text></g>
<g transform="translate(708.40,466.40) scale(1.26,1)"><text x="0.5" y="0" font-family='"Liberation Serif", serif' font-style='italic' font-size='31.25' stroke="#fff" stroke-width="0.45">β</text></g>
<text transform="translate(734.67,466.40) scale(1,1.0)" x="0" y="0" font-size="31.25" fill="#000" font-family='"Liberation Sans", sans-serif' >=</text>
<path transform="translate(761.60,466.40) scale(0.01526,-0.01526)" d="M763,0 L583,0 L583,1147 Q518,1085 412.5,1023 Q307,961 223,930 L223,1104 Q374,1175 487,1276 Q600,1377 647,1472 L763,1472 Z" fill="#000"/>
<text transform="translate(778.98,466.40) scale(1,1.0)" x="0" y="0" font-size="31.25" fill="#000" font-family='"Liberation Sans", sans-serif' >:</text>
<text transform="translate(787.66,466.40) scale(1,1.04)" x="0" y="0" font-size="31.25" fill="#000" font-family='"Liberation Sans", sans-serif' >4</text>
<text transform="translate(805.04,466.40) scale(1,1.0)" x="0" y="0" font-size="31.25" fill="#000" font-family='"Liberation Sans", sans-serif' >.</text>
<text transform="translate(813.72,466.40) scale(1,1.04)" x="0" y="0" font-size="31.25" fill="#000" font-family='"Liberation Sans", sans-serif' >3</text>
<g transform="translate(1042.60,467.70) scale(1.17,1)"><text x="-0.9" y="0" font-family='"Liberation Serif", serif' font-style='italic' font-size='31.25' stroke="#fff" stroke-width="0.45">α</text></g>
<g transform="translate(1061.80,467.70)"><text x="-1.5" y="0" font-family='"Liberation Sans", sans-serif' font-style="italic" font-size="31.25">:</text></g>
<g transform="translate(1068.20,467.70) scale(1.26,1)"><text x="0.5" y="0" font-family='"Liberation Serif", serif' font-style='italic' font-size='31.25' stroke="#fff" stroke-width="0.45">β</text></g>
<text transform="translate(1094.47,467.70) scale(1,1.0)" x="0" y="0" font-size="31.25" fill="#000" font-family='"Liberation Sans", sans-serif' >=</text>
<path transform="translate(1120.70,467.70) scale(0.01526,-0.01526)" d="M763,0 L583,0 L583,1147 Q518,1085 412.5,1023 Q307,961 223,930 L223,1104 Q374,1175 487,1276 Q600,1377 647,1472 L763,1472 Z" fill="#000"/>
<text transform="translate(1138.08,467.70) scale(1,1.0)" x="0" y="0" font-size="31.25" fill="#000" font-family='"Liberation Sans", sans-serif' >:</text>
<text transform="translate(1146.76,467.70) scale(1,1.04)" x="0" y="0" font-size="31.25" fill="#000" font-family='"Liberation Sans", sans-serif' >3</text>
<text transform="translate(1164.14,467.70) scale(1,1.0)" x="0" y="0" font-size="31.25" fill="#000" font-family='"Liberation Sans", sans-serif' >.</text>
<text transform="translate(1172.82,467.70) scale(1,1.04)" x="0" y="0" font-size="31.25" fill="#000" font-family='"Liberation Sans", sans-serif' >7</text>
<g transform="translate(1356.60,462.90) scale(1.17,1)"><text x="-0.9" y="0" font-family='"Liberation Serif", serif' font-style='italic' font-size='31.25' stroke="#fff" stroke-width="0.45">α</text></g>
<g transform="translate(1375.80,462.90)"><text x="-1.5" y="0" font-family='"Liberation Sans", sans-serif' font-style="italic" font-size="31.25">:</text></g>
<g transform="translate(1382.20,462.90) scale(1.26,1)"><text x="0.5" y="0" font-family='"Liberation Serif", serif' font-style='italic' font-size='31.25' stroke="#fff" stroke-width="0.45">β</text></g>
<text transform="translate(1408.47,462.90) scale(1,1.0)" x="0" y="0" font-size="31.25" fill="#000" font-family='"Liberation Sans", sans-serif' >=</text>
<path transform="translate(1434.70,462.90) scale(0.01526,-0.01526)" d="M763,0 L583,0 L583,1147 Q518,1085 412.5,1023 Q307,961 223,930 L223,1104 Q374,1175 487,1276 Q600,1377 647,1472 L763,1472 Z" fill="#000"/>
<text transform="translate(1452.08,462.90) scale(1,1.04)" x="0" y="0" font-size="31.25" fill="#000" font-family='"Liberation Sans", sans-serif' >3</text>
<text transform="translate(1469.46,462.90) scale(1,1.0)" x="0" y="0" font-size="31.25" fill="#000" font-family='"Liberation Sans", sans-serif' >:</text>
<path transform="translate(1478.14,462.90) scale(0.01526,-0.01526)" d="M763,0 L583,0 L583,1147 Q518,1085 412.5,1023 Q307,961 223,930 L223,1104 Q374,1175 487,1276 Q600,1377 647,1472 L763,1472 Z" fill="#000"/>
</svg>
</body></html>
